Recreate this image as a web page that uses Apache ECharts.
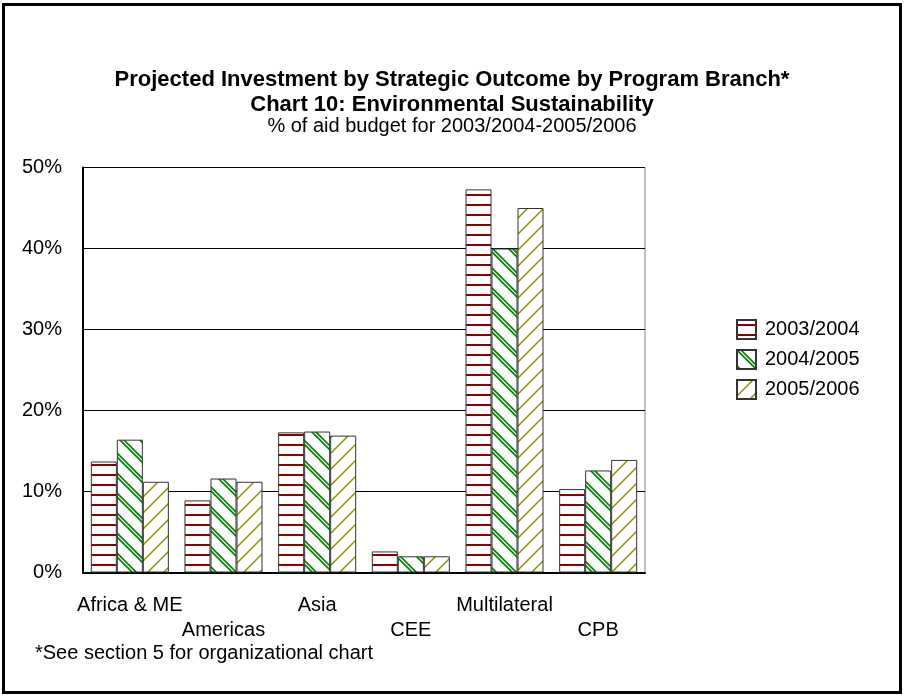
<!DOCTYPE html>
<html>
<head>
<meta charset="utf-8">
<script src="https://cdn.jsdelivr.net/npm/echarts@6/dist/echarts.min.js"></script>
<style>
html,body{margin:0;padding:0;background:#fff;}
#chart{width:904px;height:696px;}
</style>
</head>
<body>
<div id="chart"></div>
<script>
const categories = ['Africa & ME', 'Americas', 'Asia', 'CEE', 'Multilateral', 'CPB'];
const seriesNames = ['2003/2004', '2004/2005', '2005/2006'];
const values2003 = [13.7, 8.9, 17.3, 2.6, 47.3, 10.3];
const values2004 = [16.4, 11.6, 17.4, 2.0, 40.0, 12.6];
const values2005 = [11.2, 11.2, 16.9, 2.0, 45.0, 13.9];
const yTicks = [0, 10, 20, 30, 40, 50];

function makeHoriz() {
  const c = document.createElement('canvas');
  c.width = 8; c.height = 10;
  const g = c.getContext('2d');
  g.fillStyle = '#fff'; g.fillRect(0, 0, 8, 10);
  g.fillStyle = '#8b0000'; g.fillRect(0, 4, 8, 2);
  return c;
}
function makeBack(size, color, offsets, lw) {
  const c = document.createElement('canvas');
  c.width = size; c.height = size;
  const g = c.getContext('2d');
  g.fillStyle = '#fff'; g.fillRect(0, 0, size, size);
  g.strokeStyle = color; g.lineWidth = lw;
  offsets.forEach(o => {
    for (let k = -1; k <= 1; k++) {
      g.beginPath();
      g.moveTo(-size + o + k * size, -size);
      g.lineTo(2 * size + o + k * size, 2 * size);
      g.stroke();
    }
  });
  return c;
}
function makeFwd(size, color, lw) {
  const c = document.createElement('canvas');
  c.width = size; c.height = size;
  const g = c.getContext('2d');
  g.fillStyle = '#fff'; g.fillRect(0, 0, size, size);
  g.strokeStyle = color; g.lineWidth = lw;
  for (let k = -1; k <= 1; k++) {
    g.beginPath();
    g.moveTo(-size + k * size, 2 * size);
    g.lineTo(2 * size + k * size, -size);
    g.stroke();
  }
  return c;
}
const pats = [
  {image: makeHoriz(), repeat: 'repeat'},
  {image: makeBack(20, '#008000', [0, 4], 1.6), repeat: 'repeat'},
  {image: makeFwd(16, '#8c8c00', 1.4), repeat: 'repeat'}
];
const dataSets = [values2003, values2004, values2005];

const chart = echarts.init(document.getElementById('chart'));
const font = '"Liberation Sans", Arial, sans-serif';
chart.setOption({
  animation: false,
  backgroundColor: '#fff',
  title: [
    {
      text: 'Projected Investment by Strategic Outcome by Program Branch*\nChart 10: Environmental Sustainability',
      left: 'center', top: 67, padding: 0,
      textStyle: {fontFamily: font, fontSize: 22, fontWeight: 'bold', color: '#000', lineHeight: 25, align: 'center'}
    },
    {
      text: '% of aid budget for 2003/2004-2005/2006',
      left: 'center', top: 116, padding: 0,
      textStyle: {fontFamily: font, fontSize: 20, fontWeight: 'normal', color: '#000', lineHeight: 20}
    }
  ],
  legend: {
    orient: 'vertical', left: 731, top: 314,
    itemWidth: 19, itemHeight: 19, itemGap: 9,
    icon: 'rect',
    textStyle: {fontFamily: font, fontSize: 20, color: '#000', padding: [0, 0, 0, 4]},
    data: seriesNames
  },
  grid: {
    left: 83, right: 259, top: 167.5, bottom: 123.5,
    show: true, borderColor: '#808080', borderWidth: 1, backgroundColor: 'transparent'
  },
  xAxis: {
    type: 'category', data: categories,
    axisLine: {lineStyle: {color: '#000', width: 2}},
    axisTick: {show: false},
    axisLabel: {
      interval: 0, margin: 20, lineHeight: 25,
      fontFamily: font, fontSize: 20, color: '#000',
      formatter: (v, i) => (i % 2 ? '\n' + v : v)
    }
  },
  yAxis: {
    type: 'value', min: yTicks[0], max: yTicks[yTicks.length - 1], interval: 10,
    axisLine: {show: true, lineStyle: {color: '#000', width: 2}},
    axisTick: {show: false},
    splitLine: {lineStyle: {color: '#000', width: 1}},
    axisLabel: {margin: 21, fontFamily: font, fontSize: 20, color: '#000', formatter: '{value}%'}
  },
  series: seriesNames.map((n, i) => ({
    name: n, type: 'bar', data: dataSets[i],
    barGap: '0%', barCategoryGap: '16.7%',
    itemStyle: {color: pats[i], borderColor: '#333', borderWidth: 1}
  })),
  graphic: [
    {
      type: 'text', left: 35, top: 643,
      style: {text: '*See section 5 for organizational chart', font: '20px ' + font, fill: '#000'}
    },
    {
      type: 'rect', shape: {x: 3.5, y: 4.5, width: 897, height: 688},
      style: {fill: 'none', stroke: '#000', lineWidth: 3}, silent: true
    }
  ]
});
</script>
</body>
</html>
